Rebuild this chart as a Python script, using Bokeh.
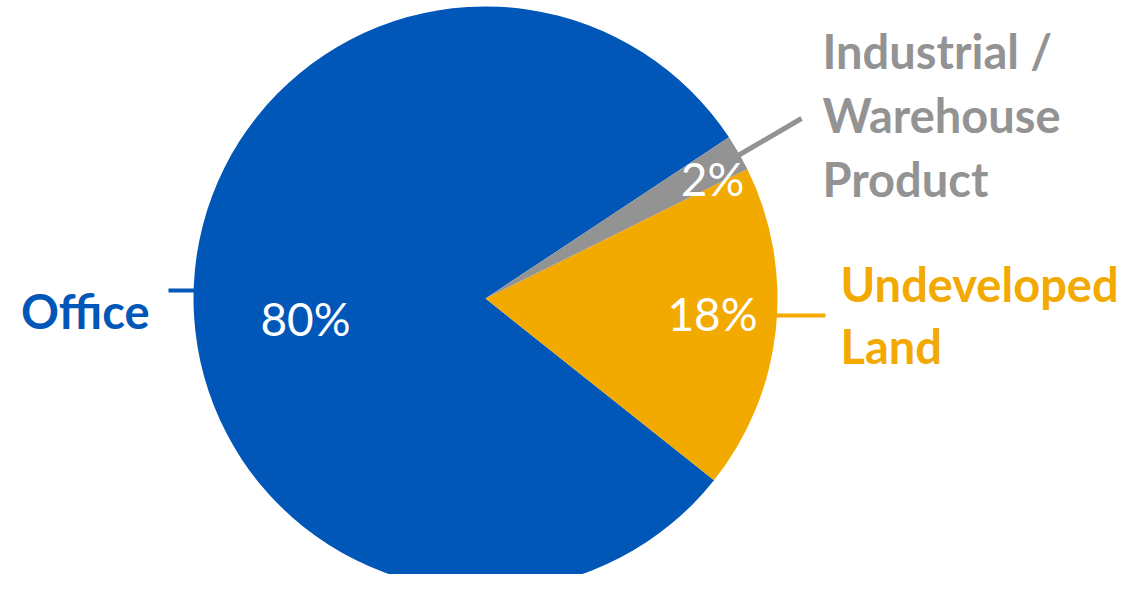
import math
from bokeh.plotting import figure
from bokeh.models import Range1d, ColumnDataSource
from bokeh.core.properties import value
from bokeh.embed import file_html
from bokeh.resources import INLINE

# ---- data ----
categories = ["Office", "Undeveloped\nLand", "Industrial /\nWarehouse\nProduct"]
shares = [80, 18, 2]
pct_labels = ["80%", "18%", "2%"]
colors = ["#0057B8", "#F2A900", "#939393"]

# ---- layout (screen-like coords: x right, y = 590 - screen_y) ----
W, H = 1128, 574
H_PAGE = 590
def sy(y):
    return H_PAGE - y

cx, cy, R = 485, sy(298), 292
start_deg = 33.5

p = figure(width=W, height=H, output_backend="svg", toolbar_location=None,
           x_range=Range1d(0, W), y_range=Range1d(H_PAGE - H, H_PAGE),
           min_border=0)
p.axis.visible = False
p.grid.visible = False
p.outline_line_color = None
p.background_fill_color = "white"

total = sum(shares)
starts, ends = [], []
acc = start_deg
for s in shares:
    starts.append(math.radians(acc))
    acc += 360.0 * s / total
    ends.append(math.radians(acc))

src = ColumnDataSource(dict(start=starts, end=ends, color=colors))
p.wedge(x=cx, y=cy, radius=R, start_angle="start", end_angle="end",
        fill_color="color", line_color=None, direction="anticlock", source=src)

# percent labels
pct_pos = [(305, 318), (712, 313), (712, 178)]
p.text(x=[q[0] for q in pct_pos], y=[sy(q[1]) for q in pct_pos], text=pct_labels,
       text_color="white", text_font=value("Lato"), text_font_size="46px",
       text_align="center", text_baseline="middle")

# leader lines
leaders = [((168, 290), (194, 290)), ((776, 315), (825, 315)), ((736, 156), (801, 118))]
lw = [4, 4, 5]
for (a, b), c, w in zip(leaders, colors, lw):
    p.line(x=[a[0], b[0]], y=[sy(a[1]), sy(b[1])], line_color=c, line_width=w)

# category labels
cat_anchor = [(149, 310, "right", 62), (840, 283, "left", 62), (822, 50, "left", 64)]
for lab, c, (ax, ay, al, lh) in zip(categories, colors, cat_anchor):
    lines = lab.split("\n")
    p.text(x=[ax] * len(lines), y=[sy(ay + i * lh) for i in range(len(lines))],
           text=lines, text_color=c, text_font=value("Lato"), text_font_style="bold",
           text_font_size="47px", text_align=al, text_baseline="middle")

open("out.html", "w").write(file_html(p, INLINE))
